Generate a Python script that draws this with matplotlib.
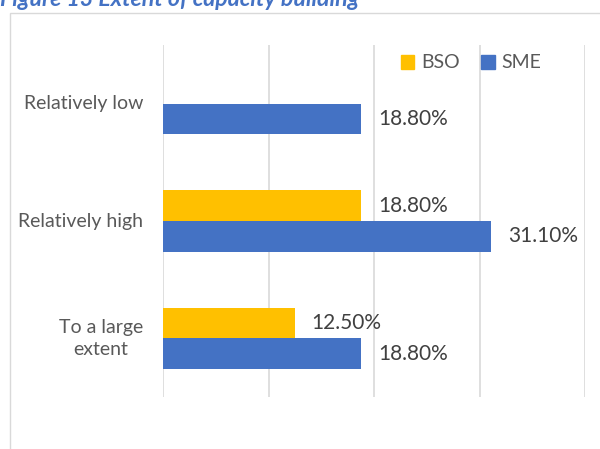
import matplotlib
matplotlib.use("Agg")
import matplotlib.pyplot as plt
import matplotlib.transforms as mtransforms
import numpy as np
from matplotlib.patches import Rectangle, Patch

categories = ["To a large\nextent", "Relatively high", "Relatively low"]
series_names = ["BSO", "SME"]
bso_values = [12.5, 18.8, np.nan]
sme_values = [18.8, 31.1, 18.8]
colors = {"BSO": "#FFC000", "SME": "#4472C4"}

W, H = 600, 449
fig = plt.figure(figsize=(W / 100, H / 100), dpi=100)
font = "Lato"
txt_color = "#595959"

# chart frame
fig.patches.append(Rectangle((10 / W, -0.1), 1.2, (H - 13) / H + 0.1,
                             transform=fig.transFigure, fill=False,
                             edgecolor="#D9D9D9", linewidth=1.0))

# title (partially cut at top)
fig.text(0 / W, 1 - 6 / H, "Figure 13 Extent of capacity building",
         fontfamily=font, fontsize=16.7, fontweight="bold", fontstyle="italic",
         color="#4472C4", ha="left", va="baseline")

ax = fig.add_axes([163 / W, 52 / H, 422 / W, 352 / H])
y = np.arange(len(categories))
h = 0.26
ax.barh(y + h / 2, bso_values, height=h, color=colors["BSO"], zorder=3)
ax.barh(y - h / 2, sme_values, height=h, color=colors["SME"], zorder=3)

lab_kw = dict(va="center", ha="left", fontfamily=font, fontsize=15, color="#404040",
              textcoords="offset points", xytext=(12, 0))
for yi, v in zip(y + h / 2, bso_values):
    if not np.isnan(v):
        ax.annotate(f"{v:.2f}%", (v, yi), **lab_kw)
for yi, v in zip(y - h / 2, sme_values):
    ax.annotate(f"{v:.2f}%", (v, yi), **lab_kw)

ax.set_xlim(0, 40)
ax.set_ylim(-0.5, 2.5)
ax.set_xticks([0, 10, 20, 30, 40])
ax.set_xticklabels([])
ax.tick_params(axis="x", length=0)
ax.tick_params(axis="y", length=0)
ax.set_yticks([])
ax.grid(axis="x", color="#D9D9D9", linewidth=1.2, zorder=0)
for s in ax.spines.values():
    s.set_visible(False)

trans = mtransforms.blended_transform_factory(ax.transAxes, ax.transData)
for yi, c in zip(y, categories):
    ax.text(-20 / 422, yi, c, ha="right", va="center", fontfamily=font, fontsize=14,
            color=txt_color, transform=trans, multialignment="center",
            linespacing=1.4)

handles = [Patch(color=colors[n]) for n in series_names]
fig.legend(handles, series_names, loc="center", bbox_to_anchor=(471 / W, 1 - 63 / H),
           ncol=2, frameon=False, prop={"family": font, "size": 14},
           labelcolor=txt_color, handlelength=0.7, handleheight=0.7,
           handletextpad=0.35, columnspacing=1.1, borderpad=0, borderaxespad=0)

fig.savefig("out.png", dpi=100)
